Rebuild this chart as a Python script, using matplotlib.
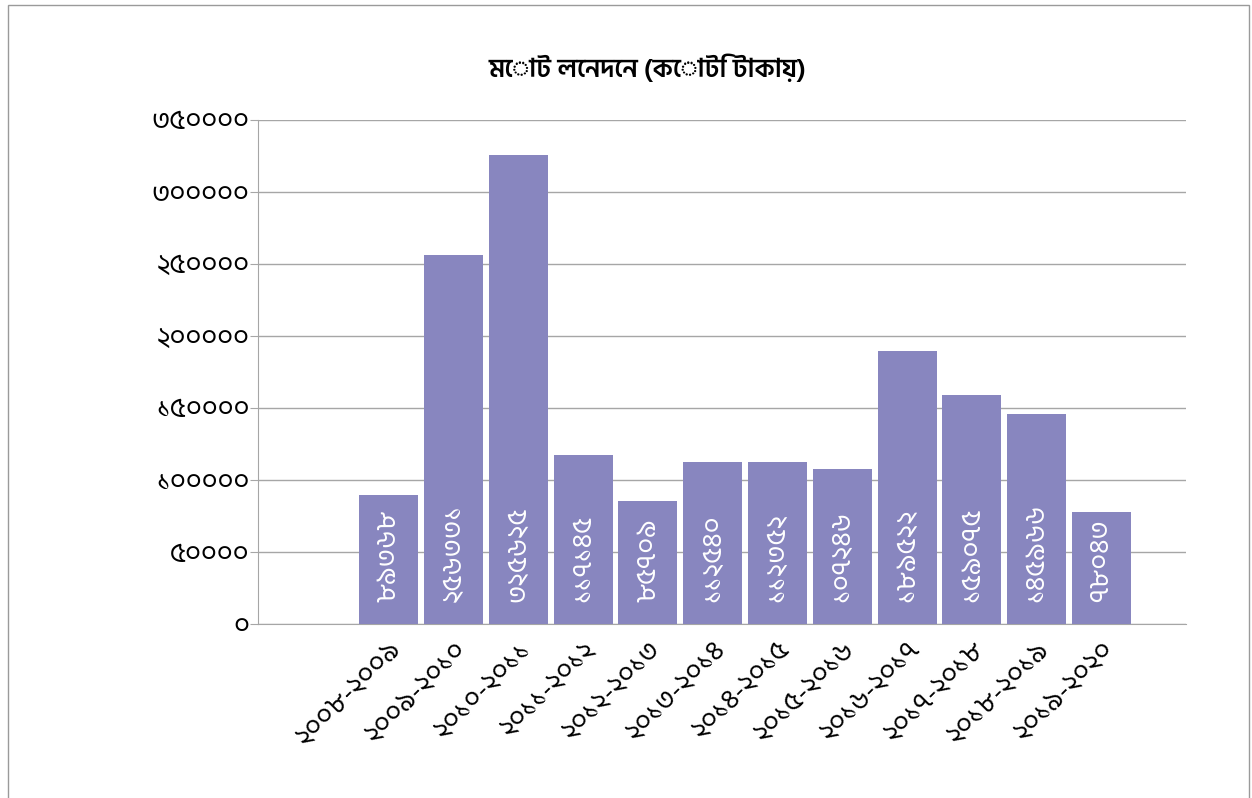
import os
import matplotlib
matplotlib.use("Agg")
import matplotlib.pyplot as plt
from matplotlib import font_manager
from matplotlib.patches import Rectangle
from matplotlib.ticker import FuncFormatter

# data (crore taka)
years = ["২০০৮-২০০৯", "২০০৯-২০১০", "২০১০-২০১১", "২০১১-২০১২", "২০১২-২০১৩", "২০১৩-২০১৪",
         "২০১৪-২০১৫", "২০১৫-২০১৬", "২০১৬-২০১৭", "২০১৭-২০১৮", "২০১৮-২০১৯", "২০১৯-২০২০"]
values = [89368, 256331, 325625, 117145, 85709, 112540,
          112352, 107246, 189522, 159075, 145966, 78043]
title = "মোট লেনদেন (কোটি টাকায়)"
y_ticks = [0, 50000, 100000, 150000, 200000, 250000, 300000, 350000]

BN_DIGITS = str.maketrans("0123456789", "০১২৩৪৫৬৭৮৯")

# Bengali font (Hind Siliguri if present)
FONT_DIR = "/usr/share/fonts/truetype/google-fonts"
bn_family = "DejaVu Sans"
for name in ["HindSiliguri-Regular.ttf", "HindSiliguri-SemiBold.ttf", "HindSiliguri-Bold.ttf"]:
    path = os.path.join(FONT_DIR, name)
    if os.path.exists(path):
        font_manager.fontManager.addfont(path)
        bn_family = "Hind Siliguri"
plt.rcParams["font.family"] = [bn_family, "DejaVu Sans"]

bar_color = "#8886bf"
grid_color = "#a6a6a6"

fig = plt.figure(figsize=(12.52, 7.98), dpi=100)
ax = fig.add_axes([0.206, 0.218, 0.741, 0.632])

x = list(range(len(values)))
ax.bar(x, values, width=0.91, color=bar_color, zorder=3)

for xi, v in zip(x, values):
    ax.text(xi, 15000, str(v).translate(BN_DIGITS), rotation=90, ha="center", va="bottom",
            color="white", fontsize=20, zorder=4)

ax.set_ylim(0, 350000)
ax.set_xlim(-2.02, 12.3)
ax.set_yticks(y_ticks)
ax.yaxis.set_major_formatter(FuncFormatter(lambda v, p: str(int(v)).translate(BN_DIGITS)))
ax.set_xticks(x)
ax.set_xticklabels(years, rotation=45, ha="right", rotation_mode="anchor", fontsize=20)
ax.tick_params(axis="y", labelsize=20, length=6, color=grid_color, pad=0)
ax.tick_params(axis="x", length=0, pad=9)

ax.grid(axis="y", color=grid_color, linewidth=1, zorder=0)
for side in ["top", "right"]:
    ax.spines[side].set_visible(False)
ax.spines["left"].set_color(grid_color)
ax.spines["bottom"].set_color(grid_color)

fig.text(0.517, 0.915, title, ha="center", va="center", fontsize=19, fontweight="semibold")

# outer border of the chart box
fig.patches.append(Rectangle((0.006, -0.01), 0.992, 1.004, transform=fig.transFigure,
                             fill=False, edgecolor="#9a9a9a", linewidth=1))

fig.savefig("out.png", dpi=100)
